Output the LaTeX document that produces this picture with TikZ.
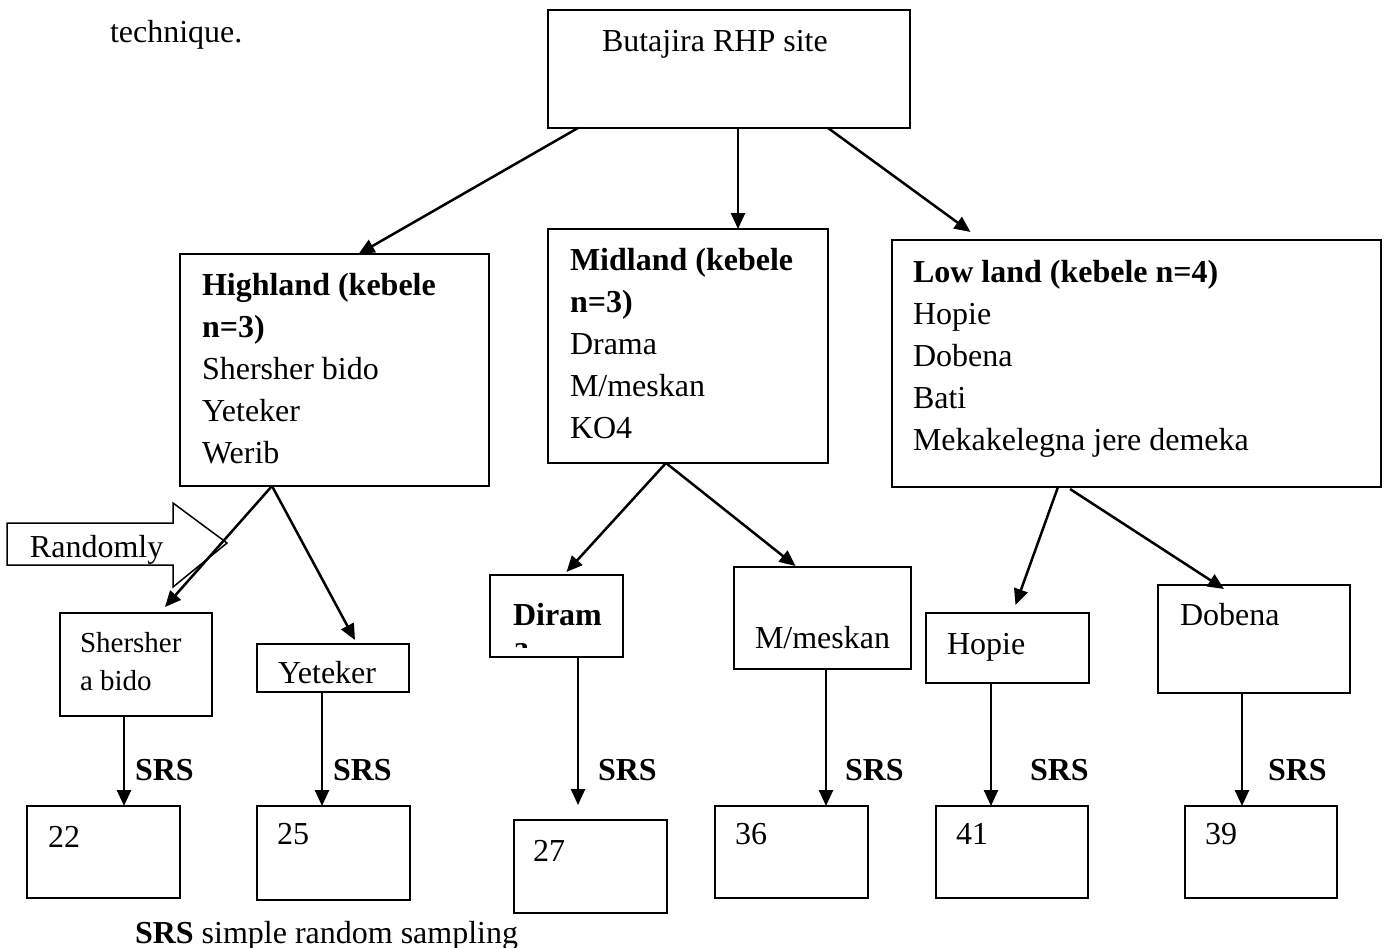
\documentclass[tikz,border=0pt]{standalone}
\usepackage{fontspec}
\setmainfont{Liberation Serif}
\usetikzlibrary{arrows.meta,calc}
\begin{document}
\begin{tikzpicture}[x=1pt,y=-1pt,
 box/.style={draw,line width=2pt,inner sep=0pt,outer sep=0pt},
 arr/.style={line width=2.5pt,-{Triangle[length=16pt,width=14pt]}},
 txt/.style={inner sep=0pt,outer sep=0pt,anchor=base west,font=\fontsize{32}{42}\selectfont},
 ml/.style={txt,align=left}]
\useasboundingbox (0,0) rectangle (1385,948);
% boxes
\node[box,minimum width=362pt,minimum height=118pt] (top) at (729,69) {};
\node[box,minimum width=309pt,minimum height=232pt] (high) at (334.5,370) {};
\node[box,minimum width=280pt,minimum height=234pt] (mid) at (688,346) {};
\node[box,minimum width=489pt,minimum height=247pt] (low) at (1136.5,363.5) {};
\node[box,minimum width=152pt,minimum height=103pt] (sher) at (136,664.5) {};
\node[box,minimum width=152pt,minimum height=48pt] (yet) at (333,668) {};
\node[box,minimum width=133pt,minimum height=82pt] (dir) at (556.5,616) {};
\node[box,minimum width=177pt,minimum height=102pt] (mes) at (822.5,618) {};
\node[box,minimum width=163pt,minimum height=70pt] (hop) at (1007.5,648) {};
\node[box,minimum width=192pt,minimum height=108pt] (dob) at (1254,639) {};
\node[box,minimum width=153pt,minimum height=92pt] (b22) at (103.5,852) {};
\node[box,minimum width=153pt,minimum height=94pt] (b25) at (333.5,853) {};
\node[box,minimum width=153pt,minimum height=93pt] (b27) at (590.5,866.5) {};
\node[box,minimum width=153pt,minimum height=92pt] (b36) at (791.5,852) {};
\node[box,minimum width=152pt,minimum height=92pt] (b41) at (1012,852) {};
\node[box,minimum width=152pt,minimum height=92pt] (b39) at (1261,852) {};
% texts (multi-line nodes: base = last line)
\node[txt] (tech) at (110,42) {technique.};
\node[txt] (ttop) at (602,51) {Butajira RHP site};
\node[ml] (thigh) at (202,463) {\textbf{Highland (kebele}\\\textbf{n=3)}\\Shersher bido\\Yeteker\\Werib};
\node[ml] (tmid) at (570,438) {\textbf{Midland (kebele}\\\textbf{n=3)}\\Drama\\M/meskan\\KO4};
\node[ml] (tlow) at (913,450) {\textbf{Low land (kebele n=4)}\\Hopie\\Dobena\\Bati\\Mekakelegna jere demeka};
\node[txt,font=\fontsize{29}{38}\selectfont,align=left] (tsher) at (80,690) {Shersher\\a bido};
\node[txt] (tyet) at (278,683) {Yeteker};
\begin{scope}
\clip ([xshift=1pt,yshift=-1pt]dir.north west) rectangle ([xshift=-1pt,yshift=10pt]dir.south east);
\node[txt,align=left,font=\fontsize{32}{33}\selectfont] (tdir) at (513,658) {\textbf{Diram}\\\textbf{a}};
\end{scope}
\node[txt] (tmes) at (755,648) {M/meskan};
\node[txt] (thop) at (947,654) {Hopie};
\node[txt] (tdob) at (1180,625) {Dobena};
\node[txt] (t22) at (48,847) {22};
\node[txt] (t25) at (277,844) {25};
\node[txt] (t27) at (533,861) {27};
\node[txt] (t36) at (735,844) {36};
\node[txt] (t41) at (956,844) {41};
\node[txt] (t39) at (1205,844) {39};
\node[txt] (s1) at (135,780) {\textbf{SRS}};
\node[txt] (s2) at (333,780) {\textbf{SRS}};
\node[txt] (s3) at (598,780) {\textbf{SRS}};
\node[txt] (s4) at (845,780) {\textbf{SRS}};
\node[txt] (s5) at (1030,780) {\textbf{SRS}};
\node[txt] (s6) at (1268,780) {\textbf{SRS}};
\node[txt] (legend) at (135,943) {\textbf{SRS} simple random sampling};
% randomly block arrow
\draw[line width=1.5pt] (7,523) -- (173,523) -- (173,503) -- (227,543) -- (173,587) -- (173,565) -- (7,565) -- cycle;
\node[txt] (rnd) at (30,557) {Randomly};
% connectors
\draw[arr] ([xshift=-151pt]top.south) -- ([xshift=24pt]high.north);
\draw[arr] ([xshift=9pt]top.south) -- ([xshift=50pt]mid.north);
\draw[arr] ([xshift=99pt]top.south) -- ([xshift=-166pt,yshift=8pt]low.north);
\draw[arr] ([xshift=-62.5pt]high.south) -- ([xshift=29pt,yshift=6pt]sher.north);
\draw[arr] ([xshift=-62.5pt]high.south) -- ([xshift=22pt,yshift=4pt]yet.north);
\draw[arr] ([xshift=-22pt]mid.south) -- ([xshift=10pt,yshift=3pt]dir.north);
\draw[arr] ([xshift=-22pt]mid.south) -- ([xshift=-27pt,yshift=1pt]mes.north);
\draw[arr] ([xshift=-78.5pt]low.south) -- ([xshift=8pt,yshift=8pt]hop.north);
\draw[arr] ([xshift=-66.5pt,yshift=-2pt]low.south) -- ([xshift=-30pt,yshift=-4pt]dob.north);
\draw[arr] ([xshift=-12pt]sher.south) -- ([xshift=-12pt]sher.south |- b22.north);
\draw[arr] ([xshift=-11pt]yet.south) -- ([xshift=-11pt]yet.south |- b25.north);
\draw[arr] ([xshift=21.5pt]dir.south) -- ([xshift=21.5pt,yshift=15pt]dir.south |- b27.north);
\draw[arr] ([xshift=3.5pt]mes.south) -- ([xshift=3.5pt]mes.south |- b36.north);
\draw[arr] ([xshift=-16.5pt]hop.south) -- ([xshift=-16.5pt]hop.south |- b41.north);
\draw[arr] ([xshift=-12pt]dob.south) -- ([xshift=-12pt]dob.south |- b39.north);
\end{tikzpicture}
\end{document}
